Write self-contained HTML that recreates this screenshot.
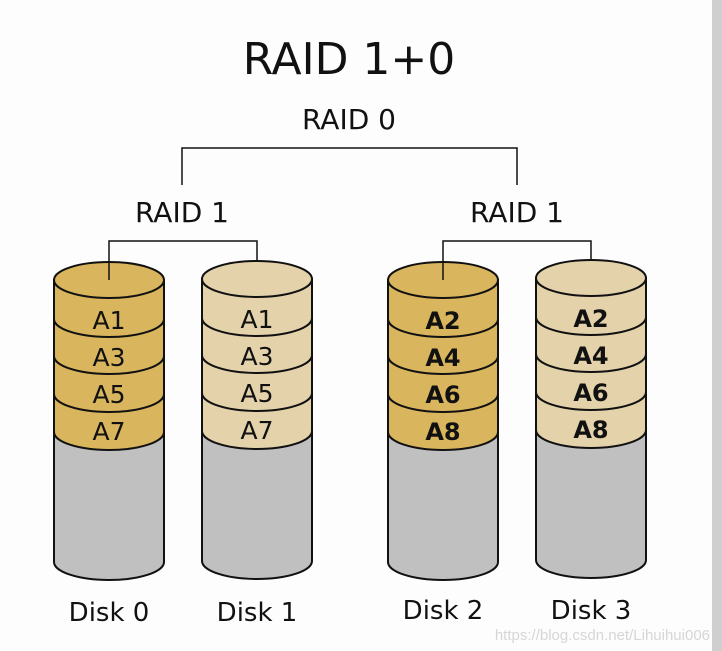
<!DOCTYPE html>
<html><head><style>html,body{margin:0;padding:0;background:#fff}svg{display:block}</style></head>
<body>
<svg width="722" height="651" viewBox="0 0 722 651" xmlns="http://www.w3.org/2000/svg" font-family="DejaVu Sans, Liberation Sans, sans-serif">
<rect width="722" height="651" fill="#fdfdfd"/>
<rect x="712" y="0" width="10" height="651" fill="#cfcfcf"/>
<text x="349" y="74" font-size="44" text-anchor="middle" fill="#111">RAID 1+0</text>
<text x="349" y="129" font-size="28" text-anchor="middle" fill="#111">RAID 0</text>
<path d="M182 185V148H517V185" fill="none" stroke="#111" stroke-width="1.5"/>
<text x="182" y="222" font-size="28" text-anchor="middle" fill="#111">RAID 1</text>
<text x="517" y="222" font-size="28" text-anchor="middle" fill="#111">RAID 1</text>
<path d="M109 280V241H257V262" fill="none" stroke="#111" stroke-width="1.5"/>
<path d="M443 280V241H591V262" fill="none" stroke="#111" stroke-width="1.5"/>

<g stroke="#111" stroke-width="2">
<path d="M54 280V562A55 18 0 0 0 164 562V280Z" fill="#c0c0c0"/>
<path d="M54 280V432A55 18 0 0 0 164 432V280Z" fill="#d9b65e"/>
<path d="M54 319A55 18 0 0 0 164 319M54 356A55 18 0 0 0 164 356M54 394A55 18 0 0 0 164 394" fill="none"/>
<ellipse cx="109" cy="280" rx="55" ry="18" fill="#d9b65e"/>
<path d="M202 279V561A55 18 0 0 0 312 561V279Z" fill="#c0c0c0"/>
<path d="M202 279V431A55 18 0 0 0 312 431V279Z" fill="#e3d2aa"/>
<path d="M202 318A55 18 0 0 0 312 318M202 355A55 18 0 0 0 312 355M202 393A55 18 0 0 0 312 393" fill="none"/>
<ellipse cx="257" cy="279" rx="55" ry="18" fill="#e3d2aa"/>
<path d="M388 280V562A55 18 0 0 0 498 562V280Z" fill="#c0c0c0"/>
<path d="M388 280V432A55 18 0 0 0 498 432V280Z" fill="#d9b65e"/>
<path d="M388 319A55 18 0 0 0 498 319M388 356A55 18 0 0 0 498 356M388 394A55 18 0 0 0 498 394" fill="none"/>
<ellipse cx="443" cy="280" rx="55" ry="18" fill="#d9b65e"/>
<path d="M536 278V560A55 18 0 0 0 646 560V278Z" fill="#c0c0c0"/>
<path d="M536 278V430A55 18 0 0 0 646 430V278Z" fill="#e3d2aa"/>
<path d="M536 317A55 18 0 0 0 646 317M536 354A55 18 0 0 0 646 354M536 392A55 18 0 0 0 646 392" fill="none"/>
<ellipse cx="591" cy="278" rx="55" ry="18" fill="#e3d2aa"/>
</g>
<path d="M109 262V280" stroke="#111" stroke-width="1.5"/>
<path d="M443 262V280" stroke="#111" stroke-width="1.5"/>

<g font-size="25" text-anchor="middle" fill="#111">
<text x="109" y="329">A1</text><text x="109" y="366">A3</text><text x="109" y="403">A5</text><text x="109" y="440">A7</text>
<text x="257" y="328">A1</text><text x="257" y="365">A3</text><text x="257" y="402">A5</text><text x="257" y="439">A7</text>
<g font-weight="bold" font-size="24">
<text x="443" y="329">A2</text><text x="443" y="366">A4</text><text x="443" y="403">A6</text><text x="443" y="440">A8</text>
<text x="591" y="327">A2</text><text x="591" y="364">A4</text><text x="591" y="401">A6</text><text x="591" y="438">A8</text>
</g>
</g>

<g font-size="26" text-anchor="middle" fill="#111">
<text x="109" y="621">Disk 0</text>
<text x="257" y="621">Disk 1</text>
<text x="443" y="619">Disk 2</text>
<text x="591" y="619">Disk 3</text>
</g>
<text x="710" y="640" font-size="15" text-anchor="end" fill="#d6d6d6" font-family="Liberation Sans, sans-serif">https://blog.csdn.net/Lihuihui006</text>
</svg>
</body></html>
